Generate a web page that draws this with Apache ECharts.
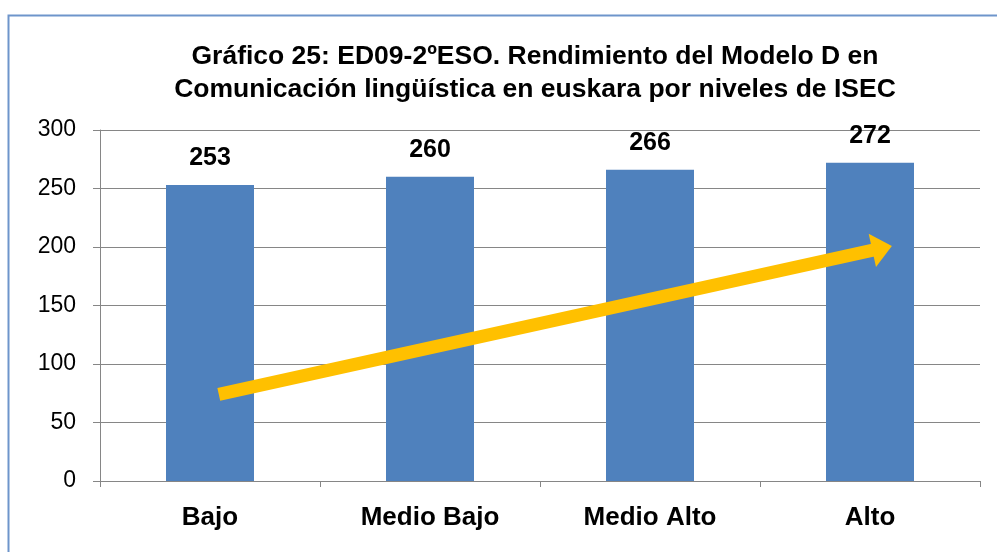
<!DOCTYPE html>
<html><head><meta charset="utf-8">
<script src="https://cdn.jsdelivr.net/npm/echarts@6/dist/echarts.min.js"></script>
<style>html,body{margin:0;padding:0;background:#fff}#c{width:997px;height:552px}</style>
</head><body><div id="c"></div>
<script>
const titleLines = ['Gráfico 25: ED09-2ºESO. Rendimiento del Modelo D en', 'Comunicación lingüística en euskara por niveles de ISEC'];
const categories = ['Bajo', 'Medio Bajo', 'Medio Alto', 'Alto'];
const values = [253, 260, 266, 272];
const yTicks = [0, 50, 100, 150, 200, 250, 300];
// trend arrow annotation in (category-position, value) space
const arrowStart = [0.54, 74];
const arrowEnd = [3.555, 199];

const FONT = 'Liberation Sans, Arial, sans-serif';
const chart = echarts.init(document.getElementById('c'), null, {renderer: 'canvas'});
chart.setOption({
  animation: false,
  backgroundColor: '#fff',
  textStyle: {fontFamily: FONT},
  graphic: [{
    type: 'rect', shape: {x: 8.5, y: 15.5, width: 1100, height: 700},
    style: {fill: 'none', stroke: '#6E95CB', lineWidth: 2}, silent: true, z: -1
  }],
  title: {
    text: titleLines.join('\n'), left: 530, top: 35, textAlign: 'center',
    textStyle: {fontSize: 26.5, fontWeight: 'bold', color: '#000', lineHeight: 33, fontFamily: FONT}
  },
  grid: {left: 100, right: 17, top: 130, bottom: 71},
  xAxis: [{
    type: 'category', data: categories,
    axisLine: {lineStyle: {color: '#868686', width: 1}},
    axisTick: {show: true, length: 6, alignWithLabel: false, lineStyle: {color: '#868686'}},
    axisLabel: {fontSize: 26, fontWeight: 'bold', color: '#000', margin: 24, fontFamily: FONT}
  }, {
    type: 'value', min: 0, max: 4, show: false
  }],
  yAxis: {
    type: 'value', min: yTicks[0], max: yTicks[yTicks.length - 1], interval: 50,
    axisLine: {show: true, lineStyle: {color: '#868686'}},
    axisTick: {show: true, length: 7, lineStyle: {color: '#868686'}},
    splitLine: {lineStyle: {color: '#868686', width: 1}},
    axisLabel: {fontSize: 23, color: '#000', margin: 24, fontFamily: FONT}
  },
  series: [{
    type: 'bar', data: values, barWidth: 88,
    itemStyle: {color: '#4F81BD'},
    label: {show: true, position: 'top', distance: 14, fontSize: 25, fontWeight: 'bold', color: '#000', fontFamily: FONT}
  }, {
    type: 'line', xAxisIndex: 1, data: [], silent: true,
    markLine: {
      silent: true, animation: false,
      symbol: ['none', 'triangle'], symbolSize: [34, 20],
      label: {show: false},
      lineStyle: {color: '#FFC000', width: 13, type: 'solid'},
      data: [[{coord: arrowStart}, {coord: arrowEnd}]]
    }
  }]
});
</script></body></html>
